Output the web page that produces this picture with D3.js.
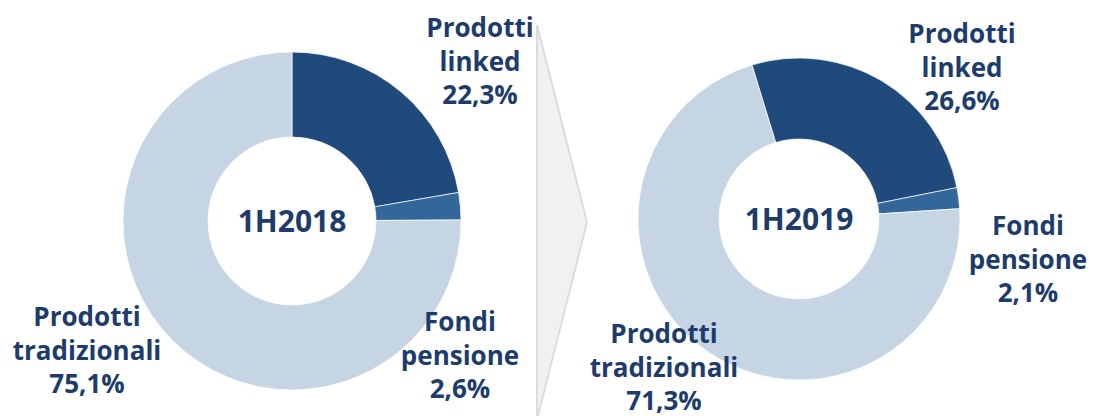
<!DOCTYPE html>
<html>
<head>
<meta charset="utf-8">
<script src="https://cdn.jsdelivr.net/npm/d3@7"></script>
<style>
  body { margin: 0; background: #fff; }
  svg text { font-family: "Open Sans", "DejaVu Sans", sans-serif; font-weight: 700; fill: #1d3c6c; }
</style>
</head>
<body>
<div id="chart"></div>
<script>
var categories = ["Prodotti linked", "Fondi pensione", "Prodotti tradizionali"];
var periods = ["1H2018", "1H2019"];
var values2018 = [22.3, 2.6, 75.1];
var values2019 = [26.6, 2.1, 71.3];
var colors = ["#20497c", "#336699", "#c5d5e4"];

function init(){
    var w = 1095, h = 416;

    var svg = d3.select("#chart")
                .append("svg")
                .attr("width", w)
                .attr("height", h);

    // grey chevron between the two donuts
    svg.append("path")
       .attr("d", "M537,25 L587,222 L537,420 Z")
       .attr("fill", "#f1f1f1")
       .attr("stroke", "#dcdcdc")
       .attr("stroke-width", 2);

    var charts = [
        { name: periods[0], values: values2018, cx: 292, cy: 221, r: 169, ir: 84, start: 0,
          labels: [ { x: 480, y: 37 }, { x: 460, y: 331 }, { x: 87, y: 326 } ] },
        { name: periods[1], values: values2019, cx: 799, cy: 219, r: 161, ir: 80, start: -17 * Math.PI / 180,
          labels: [ { x: 962, y: 43 }, { x: 1028, y: 235 }, { x: 664, y: 343 } ] }
    ];

    var color = d3.scaleOrdinal().domain(categories).range(colors);

    charts.forEach(function(c){
        var pie = d3.pie()
                    .sort(null)
                    .startAngle(c.start)
                    .endAngle(c.start + 2 * Math.PI)
                    .value(function(d){ return d.value; });

        var arc = d3.arc()
                    .outerRadius(c.r)
                    .innerRadius(c.ir);

        var data = categories.map(function(k, i){ return { key: k, value: c.values[i] }; });

        var g = svg.append("g")
                   .attr("transform", "translate(" + c.cx + "," + c.cy + ")");

        g.selectAll("path")
         .data(pie(data))
         .enter()
         .append("path")
         .attr("d", arc)
         .attr("fill", function(d){ return color(d.data.key); })
         .attr("stroke", "#fff")
         .attr("stroke-width", 0.7);

        g.append("text")
         .attr("text-anchor", "middle")
         .attr("y", 11)
         .style("font-size", "30px")
         .text(c.name);

        // outside labels: two word lines + percentage
        data.forEach(function(d, i){
            var p = c.labels[i];
            var words = d.key.split(" ");
            var lines = [words[0], words[1], d3.format(".1f")(d.value).replace(".", ",") + "%"];
            var t = svg.append("text")
                       .attr("text-anchor", "middle")
                       .style("font-size", "26px");
            lines.forEach(function(l, j){
                t.append("tspan")
                 .attr("x", p.x)
                 .attr("y", p.y + j * 33.5)
                 .text(l);
            });
        });
    });
}

window.onload = init;
</script>
</body>
</html>
